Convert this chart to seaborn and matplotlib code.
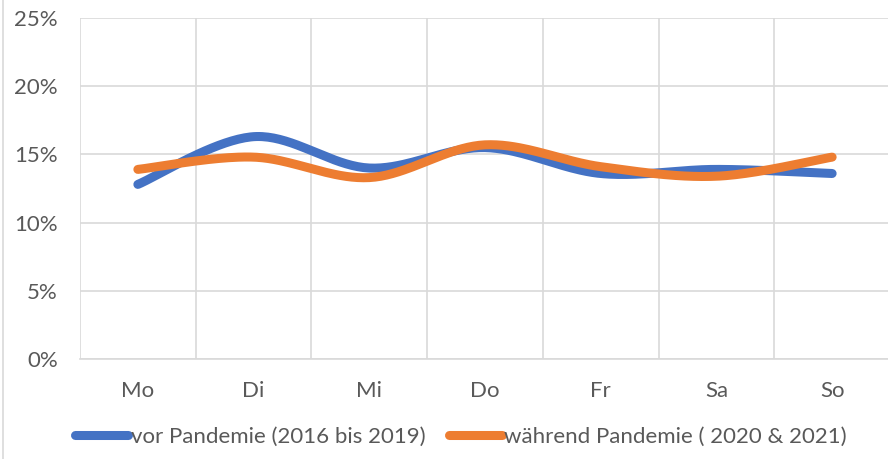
import matplotlib
matplotlib.use("Agg")

import matplotlib.pyplot as plt
import numpy as np
import pandas as pd
import seaborn as sns
from matplotlib.lines import Line2D
from matplotlib.ticker import PercentFormatter

DAYS = ["Mo", "Di", "Mi", "Do", "Fr", "Sa", "So"]
VOR_PANDEMIE = [12.8, 16.3, 14.0, 15.5, 13.6, 13.9, 13.6]
WAEHREND_PANDEMIE = [13.9, 14.8, 13.3, 15.7, 14.1, 13.4, 14.8]
SERIES_NAMES = ["vor Pandemie (2016 bis 2019)", "während Pandemie ( 2020 & 2021)"]
COLORS = ["#4472C4", "#ED7D31"]
Y_TICKS = [0, 5, 10, 15, 20, 25]


def smooth_curve(values, steps=40):
    # Excel-like smoothed line: Catmull-Rom segments between the category points
    y = np.asarray(values, dtype=float)
    x = np.arange(len(y), dtype=float)
    px = np.concatenate([[x[0]], x, [x[-1]]])
    py = np.concatenate([[y[0]], y, [y[-1]]])
    xs, ys = [], []
    for i in range(1, len(px) - 2):
        t = np.linspace(0, 1, steps, endpoint=(i == len(px) - 3))
        for arr, out in ((px, xs), (py, ys)):
            p0, p1, p2, p3 = arr[i - 1], arr[i], arr[i + 1], arr[i + 2]
            m1 = (p2 - p0) / 2
            m2 = (p3 - p1) / 2
            h00 = 2 * t**3 - 3 * t**2 + 1
            h10 = t**3 - 2 * t**2 + t
            h01 = -2 * t**3 + 3 * t**2
            h11 = t**3 - t**2
            out.append(h00 * p1 + h10 * m1 + h01 * p2 + h11 * m2)
    return np.concatenate(xs), np.concatenate(ys)


def main() -> None:
    sns.set_theme(style="white")
    plt.rcParams["font.family"] = ["Lato", "DejaVu Sans"]

    fig = plt.figure(figsize=(8.88, 4.59), dpi=100)
    ax = fig.add_axes([80 / 888, 1 - 359 / 459, 810 / 888, 341 / 459])

    frames = []
    for name, values in zip(SERIES_NAMES, [VOR_PANDEMIE, WAEHREND_PANDEMIE]):
        xs, ys = smooth_curve(values)
        frames.append(pd.DataFrame({"x": xs, "y": ys, "serie": name}))
    df = pd.concat(frames, ignore_index=True)

    sns.lineplot(
        data=df,
        x="x",
        y="y",
        hue="serie",
        palette=dict(zip(SERIES_NAMES, COLORS)),
        sort=False,
        linewidth=6.5,
        legend=False,
        ax=ax,
        solid_capstyle="round",
    )

    ax.set_xlim(-0.5, len(DAYS) - 0.5)
    ax.set_ylim(0, 25)
    ax.set_xticks(range(len(DAYS)))
    ax.set_xticklabels(DAYS)
    ax.set_yticks(Y_TICKS)
    ax.yaxis.set_major_formatter(PercentFormatter(decimals=0))
    ax.set_xticks(np.arange(-0.5, len(DAYS), 1.0), minor=True)
    ax.grid(False)
    ax.grid(axis="y", which="major", color="#d9d9d9", linewidth=1.2)
    ax.grid(axis="x", which="minor", color="#d9d9d9", linewidth=1.2)
    ax.tick_params(axis="both", which="both", length=0, labelsize=16, colors="#595959")
    ax.tick_params(axis="y", pad=16)
    ax.tick_params(axis="x", pad=16)
    ax.set_xlabel("")
    ax.set_ylabel("")
    for side in ["top", "right", "left"]:
        ax.spines[side].set_visible(False)
    ax.spines["bottom"].set_color("#d9d9d9")
    ax.spines["bottom"].set_linewidth(1.2)

    handles = [Line2D([0], [0], color=c, linewidth=6.5, solid_capstyle="round") for c in COLORS]
    fig.legend(
        handles,
        SERIES_NAMES,
        loc="center",
        bbox_to_anchor=(461 / 888, 1 - 437 / 459),
        ncol=2,
        frameon=False,
        fontsize=16,
        labelcolor="#595959",
        handlelength=2.4,
        handletextpad=0.1,
        columnspacing=1.05,
    )

    fig.add_artist(Line2D([3 / 888, 3 / 888], [0, 1], color="#d9d9d9", linewidth=1.2, transform=fig.transFigure))

    fig.savefig("out.png", dpi=100)
    plt.close(fig)


if __name__ == "__main__":
    main()
